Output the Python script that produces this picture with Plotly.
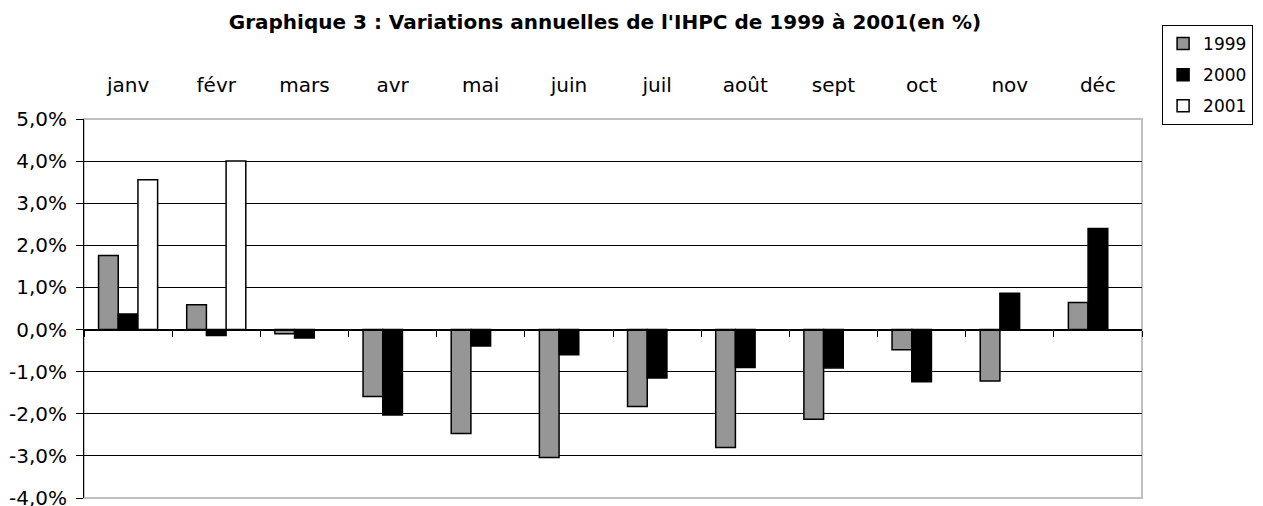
import plotly.graph_objects as go

months = ["janv", "févr", "mars", "avr", "mai", "juin", "juil", "août", "sept", "oct", "nov", "déc"]
v1999 = [1.76, 0.59, -0.10, -1.59, -2.47, -3.04, -1.83, -2.80, -2.13, -0.48, -1.22, 0.64]
v2000 = [0.37, -0.14, -0.20, -2.03, -0.39, -0.60, -1.15, -0.90, -0.91, -1.24, 0.86, 2.40]
v2001 = [3.56, 4.00, None, None, None, None, None, None, None, None, None, None]

tick_vals = [5, 4, 3, 2, 1, 0, -1, -2, -3, -4]
tick_text = ["5,0%", "4,0%", "3,0%", "2,0%", "1,0%", "0,0%", "-1,0%", "-2,0%", "-3,0%", "-4,0%"]

FONT = "DejaVu Sans, Arial, sans-serif"

fig = go.Figure()
series = [("1999", v1999, "#969696"), ("2000", v2000, "#000000"), ("2001", v2001, "#ffffff")]
for name, vals, col in series:
    fig.add_trace(go.Bar(
        x=months, y=vals, name=name, legendgroup=name,
        marker=dict(color=col, line=dict(color="#000000", width=1.5)),
    ))

# helper trace for zero-line axis with boundary ticks
fig.add_trace(go.Scatter(x=months, y=[0] * 12, xaxis="x2", mode="lines",
                         line=dict(color="rgba(0,0,0,0)"), showlegend=False, hoverinfo="skip"))

fig.update_layout(
    width=1255, height=498,
    margin=dict(l=76, r=121, t=111, b=8, autoexpand=False),
    paper_bgcolor="white", plot_bgcolor="white",
    font=dict(family=FONT, size=20, color="#000000"),
    title=dict(text="<b>Graphique 3 : Variations annuelles de l'IHPC de 1999 à 2001(en %)</b>",
               x=0.4924, xref="paper", xanchor="center", y=0.972, yref="container", yanchor="middle",
               font=dict(family=FONT, size=20, color="#000000")),
    barmode="group", bargap=0.33, bargroupgap=0,
    xaxis=dict(type="category", categoryarray=months, side="top", showline=False,
               showgrid=False, ticks="", ticklabelstandoff=22, range=[-0.5, 11.5],
               tickfont=dict(size=20), automargin=False),
    xaxis2=dict(type="category", categoryarray=months, overlaying="x", matches="x",
                anchor="free", position=4 / 9, showline=True, linecolor="#000000", linewidth=1,
                ticks="outside", tickson="boundaries", ticklen=6, tickcolor="#000000",
                showticklabels=False, showgrid=False, range=[-0.5, 11.5], automargin=False),
    yaxis=dict(range=[-4, 5], tickvals=tick_vals, ticktext=tick_text, showgrid=True,
               gridcolor="#000000", gridwidth=1, zeroline=False, showline=True,
               linecolor="#000000", linewidth=1, ticks="outside", ticklen=7,
               tickcolor="#000000", tickfont=dict(size=20), automargin=False,
               ticklabelstandoff=5, ticklabeloverflow="allow"),
    legend=dict(x=1.105, xanchor="right", y=1.248, yanchor="top",
                bordercolor="#000000", borderwidth=1, bgcolor="white",
                font=dict(size=17), itemwidth=30, tracegroupgap=6, traceorder="grouped"),
    shapes=[dict(type="rect", xref="paper", yref="paper", x0=0, x1=1, y0=0, y1=1,
                 line=dict(color="#c0c0c0", width=2), layer="between")],
)

fig.write_html("out.html")
